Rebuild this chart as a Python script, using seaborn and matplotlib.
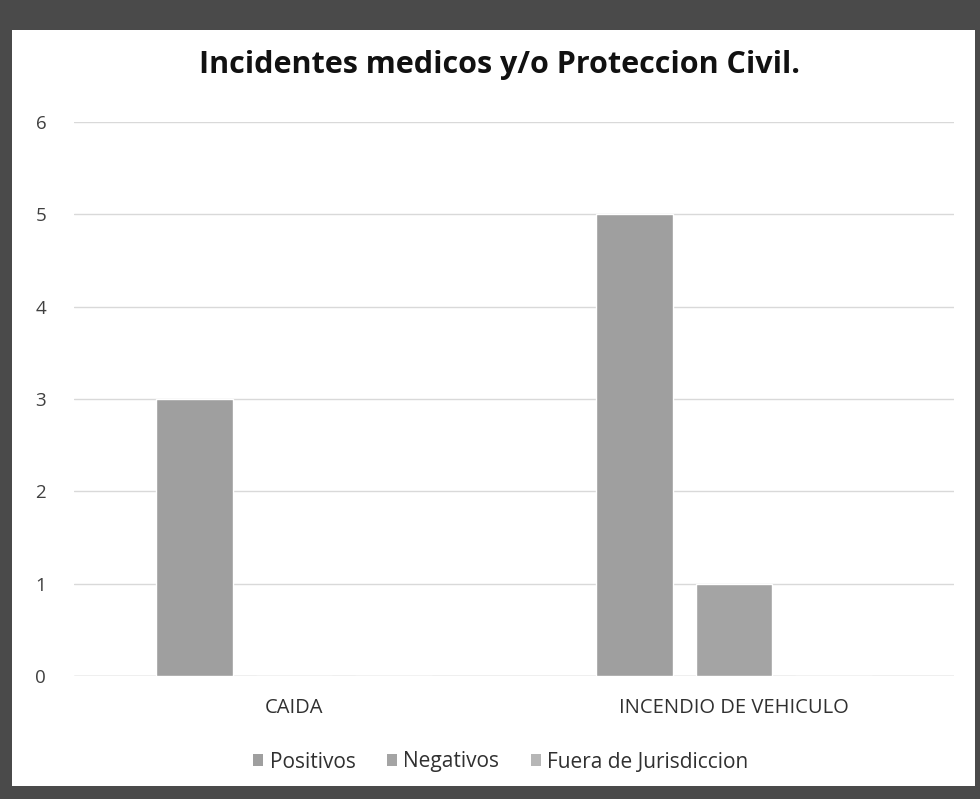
import matplotlib
matplotlib.use("Agg")
import matplotlib.pyplot as plt
from matplotlib.patches import Rectangle
import seaborn as sns
import pandas as pd

categorias = ["CAIDA", "INCENDIO DE VEHICULO"]
series = ["Positivos", "Negativos", "Fuera de Jurisdiccion"]
positivos = [3, 5]
negativos = [0, 1]
fuera = [0, 0]
yticks = [0, 1, 2, 3, 4, 5, 6]

rows = []
for i, c in enumerate(categorias):
    rows.append((c, series[0], positivos[i]))
    rows.append((c, series[1], negativos[i]))
    rows.append((c, series[2], fuera[i]))
df = pd.DataFrame(rows, columns=["categoria", "serie", "valor"])

sns.set_theme(style="white")
plt.rcParams["font.family"] = ["Open Sans", "DejaVu Sans"]

fig = plt.figure(figsize=(9.8, 7.99), dpi=100, facecolor="#4a4a4a")
# white page inside the dark scanned frame
fig.patches.append(Rectangle((12 / 980, 1 - 786 / 799), 963 / 980, 756 / 799,
                             transform=fig.transFigure, facecolor="white",
                             edgecolor="none", zorder=-1))

ax = fig.add_axes([74 / 980, 123 / 799, 880 / 980, 554 / 799])
ax.set_zorder(2)
ax.set_facecolor("none")
colores = {"Positivos": "#9f9f9f", "Negativos": "#a4a4a4", "Fuera de Jurisdiccion": "#b6b6b6"}
sns.barplot(data=df, x="categoria", y="valor", hue="serie", palette=colores,
            width=0.68, gap=0.23, ax=ax, legend=False, saturation=1)

ax.set_ylim(0, 6)
ax.set_yticks(yticks)
ax.yaxis.grid(True, color="#d9d9d9", linewidth=1)
ax.set_axisbelow(True)
for s in ax.spines.values():
    s.set_visible(False)
ax.axhline(0, color="#d0d0d0", linewidth=1, zorder=0)
ax.set_xlabel("")
ax.set_ylabel("")
ax.tick_params(axis="y", length=0, pad=20, labelsize=13.5, labelcolor="#404040")
ax.tick_params(axis="x", length=0, pad=16, labelsize=14.5, labelcolor="#303030")

fig.text(0.51, 1 - 65 / 799, "Incidentes medicos y/o Proteccion Civil.",
         ha="center", va="center", fontsize=22, fontweight="bold", color="#111111")

handles = [Rectangle((0, 0), 1, 1, facecolor=colores[s], edgecolor="none") for s in series]
fig.legend(handles, series, loc="center", bbox_to_anchor=(0.511, 1 - 762 / 799), ncol=3,
           frameon=False, fontsize=15, handlelength=0.5, handleheight=0.5,
           handletextpad=0.3, columnspacing=1.5, labelcolor="#303030")

fig.savefig("out.png", dpi=100, facecolor=fig.get_facecolor())
